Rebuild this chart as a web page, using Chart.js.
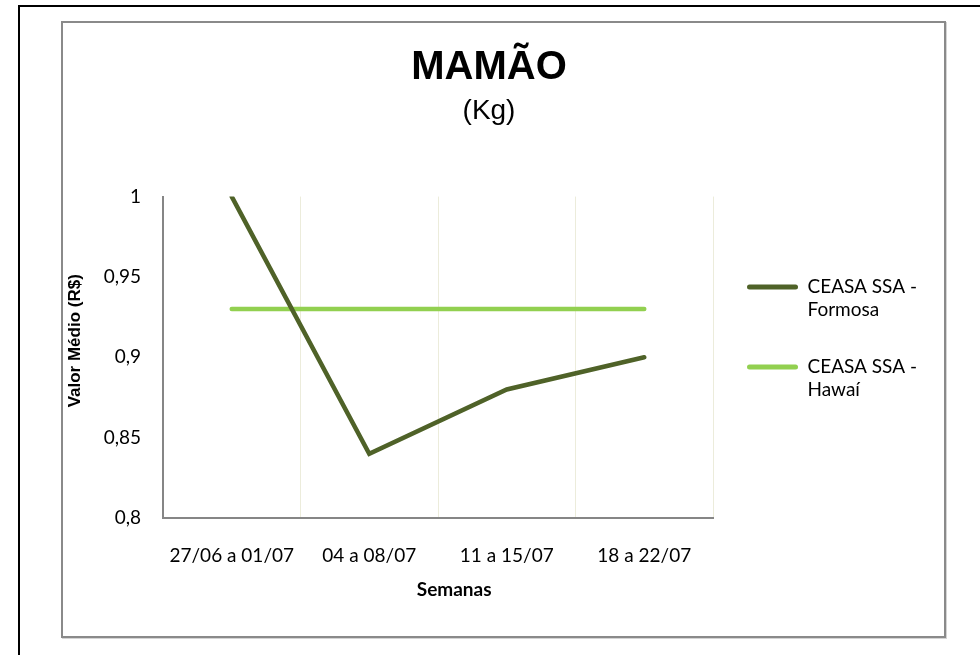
<!DOCTYPE html>
<html>
<head>
<meta charset="utf-8">
<script src="https://cdn.jsdelivr.net/npm/chart.js@4"></script>
<style>
  html, body { margin: 0; padding: 0; background: #fff; }
  body { width: 980px; height: 655px; position: relative; overflow: hidden; }
  #page-edge { position: absolute; left: 18px; top: 5px; width: 1000px; height: 700px;
    border-top: 2px solid #000; border-left: 2px solid #000; }
  #frame { position: absolute; left: 61px; top: 21px; width: 885px; height: 617px; box-sizing: border-box;
    border: 2px solid #8a8a8a; box-shadow: 1px 1px 0 #d4d4d4; }
  #chart-box { position: absolute; left: 62px; top: 22px; width: 854px; height: 614px; }
</style>
</head>
<body>
<div id="page-edge"></div>
<div id="frame"></div>
<div id="chart-box"><canvas id="mamaoChart"></canvas></div>
<script>
// valores
const weeks = ['27/06 a 01/07', '04 a 08/07', '11 a 15/07', '18 a 22/07'];
const formosa = [1.0, 0.84, 0.88, 0.90];
const hawai = [0.93, 0.93, 0.93, 0.93];
const seriesNames = ['CEASA SSA - Formosa', 'CEASA SSA - Hawaí'];
const yTicks = [0.8, 0.85, 0.9, 0.95, 1];

const calibriLike = 'Lato, "Open Sans", sans-serif';
const arialLike = '"Liberation Sans", Arial, sans-serif';

function fmtComma(v) {
    return String(Number(v.toFixed(2))).replace('.', ',');
}

document.addEventListener('DOMContentLoaded', () => {
    const ctx = document.getElementById('mamaoChart').getContext('2d');
    new Chart(ctx, {
        type: 'line',
        data: {
            labels: weeks,
            datasets: [{
                label: seriesNames[0],
                data: formosa,
                borderColor: '#4F6228',
                backgroundColor: '#4F6228',
                borderWidth: 4.5,
                borderCapStyle: 'round',
                borderJoinStyle: 'miter',
                pointRadius: 0,
                tension: 0
            }, {
                label: seriesNames[1],
                data: hawai,
                borderColor: '#92D050',
                backgroundColor: '#92D050',
                borderWidth: 4.5,
                borderCapStyle: 'round',
                pointRadius: 0,
                tension: 0
            }]
        },
        options: {
            responsive: true,
            maintainAspectRatio: false,
            animation: false,
            devicePixelRatio: 1,
            layout: { padding: { top: 23, left: 0, right: 0, bottom: 0 } },
            scales: {
                x: {
                    offset: true,
                    afterFit: (s) => { s.height = 118; },
                    grid: { display: true, color: '#ECECDB', lineWidth: 1, drawTicks: false, offset: true },
                    border: { display: true, color: '#868686', width: 2 },
                    ticks: { color: '#000', padding: 26, font: { family: calibriLike, size: 19 } },
                    title: {
                        display: true,
                        text: '       Semanas',
                        color: '#000',
                        font: { family: calibriLike, size: 19, weight: 'bold', lineHeight: 1.2 },
                        padding: { top: 0, bottom: 35 }
                    }
                },
                y: {
                    min: yTicks[0],
                    max: yTicks[yTicks.length - 1],
                    afterFit: (s) => { s.width = 101; },
                    afterBuildTicks: (s) => { s.ticks = yTicks.map(v => ({ value: v })); },
                    grid: { display: false, drawTicks: false },
                    border: { display: true, color: '#868686', width: 2 },
                    ticks: {
                        color: '#000',
                        padding: 22,
                        font: { family: calibriLike, size: 19 },
                        callback: (v) => fmtComma(v)
                    },
                    title: {
                        display: true,
                        text: '       Valor Médio (R$)',
                        color: '#000',
                        font: { family: arialLike, size: 17, weight: 'bold', lineHeight: 1.2 },
                        padding: { top: 3, bottom: 0 }
                    }
                }
            },
            plugins: {
                title: {
                    display: true,
                    text: 'MAMÃO',
                    color: '#000',
                    font: { family: arialLike, size: 40, weight: 'bold', lineHeight: 1.15 },
                    padding: { top: 0, bottom: 0 }
                },
                subtitle: {
                    display: true,
                    text: '(Kg)',
                    color: '#000',
                    font: { family: arialLike, size: 28, weight: 'normal', lineHeight: 1.2 },
                    padding: { top: 3, bottom: 69 }
                },
                legend: {
                    display: true,
                    position: 'right',
                    align: 'center',
                    maxWidth: 203,
                    labels: {
                        boxWidth: 51,
                        boxHeight: 5,
                        padding: 34,
                        color: '#000',
                        useBorderRadius: true,
                        borderRadius: 2.5,
                        font: { family: calibriLike, size: 19, lineHeight: 23 / 19 },
                        generateLabels: (chart) => chart.data.datasets.map((ds, i) => {
                            const parts = ds.label.split(' - ');
                            return {
                                text: [parts[0] + ' -', parts[1]],
                                fillStyle: ds.borderColor,
                                strokeStyle: ds.borderColor,
                                lineWidth: 0,
                                borderRadius: 2.5,
                                hidden: !chart.isDatasetVisible(i),
                                datasetIndex: i
                            };
                        })
                    }
                },
                tooltip: { enabled: false }
            }
        }
    });
});
</script>
</body>
</html>
